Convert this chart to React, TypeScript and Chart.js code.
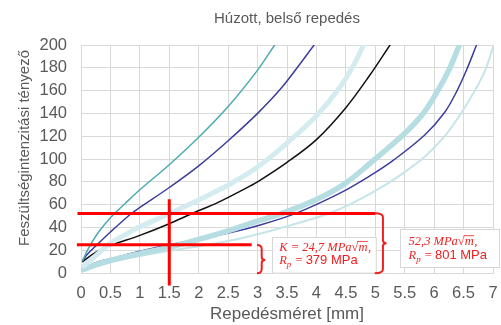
import { useEffect, useRef } from 'react';
import { Chart, registerables } from 'chart.js';

Chart.register(...registerables);

const titleText = 'Húzott, belső repedés';
const xTitle = 'Repedésméret [mm]';
const yTitle = 'Feszültségintenzitási tényező';

// Curves (crack size [mm] -> stress intensity)
const tealX = [0.03, 0.1, 0.17, 0.3, 0.5, 0.75, 1.0, 1.5, 2.0, 2.5, 3.0, 3.29];
const tealY = [11, 19, 25.6, 36, 48.5, 61, 73, 95, 119, 146, 178, 200];

const blue1X = [0.03, 0.1, 0.26, 0.5, 0.85, 1.0, 1.5, 2.0, 2.5, 3.0, 3.4, 3.73, 3.96];
const blue1Y = [11, 16, 24.2, 36, 52, 57.5, 75, 94, 116, 140, 162, 184, 200];

const paleX = [0.05, 0.2, 0.5, 0.8, 1.0, 1.5, 2.0, 2.33, 2.5, 3.0, 3.5, 4.0, 4.4, 4.65, 4.8];
const paleY = [6, 13, 26, 35, 40.5, 52, 64, 72.5, 77, 93, 114, 138, 163, 184, 200];

const blackX = [0.03, 0.17, 0.3, 0.51, 1.0, 1.49, 1.88, 2.33, 2.73, 3.0, 3.5, 4.0, 4.5, 4.9, 5.25];
const blackY = [10, 15.4, 19.5, 24.2, 33, 43, 52, 62, 72.5, 80, 97, 117, 145, 173, 200];

const bandX = [0.03, 0.3, 0.5, 1.0, 1.5, 2.0, 2.5, 3.0, 3.45, 4.0, 4.5, 4.95, 5.47, 5.8, 6.04, 6.25, 6.43];
const bandY = [3, 8, 11, 17, 22.7, 29.5, 37, 45.5, 53, 64.5, 79, 98, 121, 139, 158, 178, 200];

const blue2X = [0.03, 0.3, 0.51, 1.0, 1.5, 2.0, 2.5, 3.0, 3.65, 4.4, 4.9, 5.31, 5.84, 6.18, 6.39, 6.55, 6.72];
const blue2Y = [4, 10, 12.5, 19, 24.7, 29.5, 35, 41.5, 52.3, 70, 84.9, 99, 121, 141, 160, 178, 200];

const lightX = [0.03, 0.5, 1.0, 1.5, 2.0, 2.5, 3.0, 3.5, 4.2, 4.6, 5.0, 5.4, 5.84, 6.18, 6.43, 6.67, 6.87, 7.0];
const lightY = [2, 9.5, 15, 19.5, 23.5, 28, 34, 41, 52, 61, 72, 85, 102, 120, 138, 158, 178, 198];

// Red reading lines
const redVX = [1.5, 1.5];
const redVY = [64.7, -11];
const redHiX = [-0.06, 5.0];
const redHiY = [52.3, 52.3];
const redLoX = [-0.07, 2.9];
const redLoY = [24.7, 24.7];

// Annotation texts
const lowLine1 = 'K = 24,7 MPa';
const hiLine1 = '52,3 MPa';
const sqrtArg = 'm';
const rSym = 'R';
const rSub = 'p';
const lowRp = '379 MPa';
const hiRp = '801 MPa';

// Annotation boxes / braces in data units
const lowBox = { x0: 3.24, x1: 5.02, y0: -0.3, y1: 31.8 };
const hiBox = { x0: 5.42, x1: 7.12, y0: 4.4, y1: 38.6 };
const lowBrace = { x0: 2.99, x1: 3.07, x2: 3.13, top: 24.6, bottom: -0.3, mid: 11.4 };
const hiBrace = { x0: 4.99, x1: 5.13, x2: 5.19, top: 52.4, bottom: -0.3, mid: 26 };

const RED = '#f02020';
const GRAY_TEXT = '#595959';
const GRID = '#d9d9d9';

const pts = (xs: number[], ys: number[]) => xs.map((v, i) => ({ x: v, y: ys[i] }));

const annotPlugin = {
  id: 'annot',
  afterDatasetsDraw(chart: any) {
    const { ctx } = chart;
    const xs = chart.scales.x;
    const ys = chart.scales.y;
    const px = (v: number) => xs.getPixelForValue(v);
    const py = (v: number) => ys.getPixelForValue(v);
    ctx.save();

    const drawBox = (b: any) => {
      const l = px(b.x0), r = px(b.x1), t = py(b.y1), bt = py(b.y0);
      ctx.fillStyle = '#ffffff';
      ctx.fillRect(l, t, r - l, bt - t);
      ctx.strokeStyle = '#d6d6d6';
      ctx.lineWidth = 1;
      ctx.strokeRect(Math.round(l) + 0.5, Math.round(t) + 0.5, r - l - 1, bt - t - 1);
      return { l, t };
    };

    const drawBrace = (b: any) => {
      const x0 = px(b.x0), x1 = px(b.x1), x2 = px(b.x2);
      const t = py(b.top), bt = py(b.bottom), m = py(b.mid);
      ctx.strokeStyle = RED;
      ctx.lineWidth = 2;
      ctx.beginPath();
      ctx.moveTo(x0, t);
      ctx.quadraticCurveTo(x1, t, x1, t + 4);
      ctx.lineTo(x1, m - 3);
      ctx.quadraticCurveTo(x1, m, x2, m);
      ctx.quadraticCurveTo(x1, m, x1, m + 3);
      ctx.lineTo(x1, bt - 4);
      ctx.quadraticCurveTo(x1, bt, x0, bt);
      ctx.stroke();
    };

    const mathFont = 'italic 12.5px "Liberation Serif"';
    const subFont = 'italic 9px "Liberation Serif"';
    const sansFont = '13px "Liberation Sans"';

    const drawLine1 = (x: number, y: number, head: string) => {
      ctx.fillStyle = RED;
      ctx.textBaseline = 'alphabetic';
      ctx.textAlign = 'left';
      ctx.font = mathFont;
      ctx.fillText(head, x, y);
      let cx = x + ctx.measureText(head).width;
      ctx.font = '12.5px "Liberation Serif"';
      ctx.fillText('√', cx, y);
      const sw = ctx.measureText('√').width;
      cx += sw;
      ctx.font = mathFont;
      ctx.fillText(sqrtArg, cx, y);
      const mw = ctx.measureText(sqrtArg).width;
      ctx.strokeStyle = RED;
      ctx.lineWidth = 0.8;
      ctx.beginPath();
      ctx.moveTo(cx - 1, y - 9.8);
      ctx.lineTo(cx + mw + 0.5, y - 9.8);
      ctx.stroke();
      cx += mw;
      ctx.fillText(',', cx + 0.5, y);
    };

    const drawLine2 = (x: number, y: number, val: string) => {
      ctx.fillStyle = RED;
      ctx.textAlign = 'left';
      ctx.textBaseline = 'alphabetic';
      ctx.font = mathFont;
      ctx.fillText(rSym, x, y);
      let cx = x + ctx.measureText(rSym).width;
      ctx.font = subFont;
      ctx.fillText(rSub, cx, y + 3);
      cx += ctx.measureText(rSub).width + 1;
      ctx.font = '12.5px "Liberation Serif"';
      ctx.fillText(' = ', cx, y);
      cx += ctx.measureText(' = ').width;
      ctx.font = sansFont;
      ctx.fillText(val, cx, y);
    };

    const lb = drawBox(lowBox);
    drawLine1(lb.l + 7.5, lb.t + 14.5, lowLine1);
    drawLine2(lb.l + 7.5, lb.t + 27.5, lowRp);

    const hb = drawBox(hiBox);
    drawLine1(hb.l + 8.5, hb.t + 16.5, hiLine1);
    drawLine2(hb.l + 8.5, hb.t + 30.5, hiRp);

    drawBrace(lowBrace);
    drawBrace(hiBrace);

    // Y axis title
    ctx.fillStyle = GRAY_TEXT;
    ctx.font = '15px "Liberation Sans"';
    ctx.textAlign = 'center';
    ctx.textBaseline = 'middle';
    ctx.translate(25, 148);
    ctx.rotate(-Math.PI / 2);
    ctx.fillText(yTitle, 0, 0);
    ctx.restore();
  },
};

export default function App() {
  const ref = useRef<HTMLCanvasElement | null>(null);
  useEffect(() => {
    if (!ref.current) return;
    const curve = (xs: number[], ys: number[], color: string, width: number) => ({
      data: pts(xs, ys),
      borderColor: color,
      backgroundColor: color,
      borderWidth: width,
      pointRadius: 0,
      tension: 0.35,
      borderCapStyle: 'round',
      borderJoinStyle: 'round',
      fill: false,
      order: 2,
    });
    const red = (xs: number[], ys: number[]) => ({
      data: pts(xs, ys),
      borderColor: '#ff0000',
      backgroundColor: '#ff0000',
      borderWidth: 3,
      pointRadius: 0,
      tension: 0,
      fill: false,
      clip: false as any,
      order: 0,
    });
    const chart = new Chart(ref.current, {
      type: 'line',
      data: {
        datasets: [
          red(redVX, redVY),
          red(redHiX, redHiY),
          red(redLoX, redLoY),
          curve(paleX, paleY, '#d4ecef', 5),
          curve(bandX, bandY, '#b6dde2', 5.5),
          curve(lightX, lightY, '#c6e5e9', 2),
          curve(tealX, tealY, '#4babb1', 1.5),
          curve(blue1X, blue1Y, '#3d3d9c', 1.5),
          curve(blue2X, blue2Y, '#3d3d9c', 1.5),
          curve(blackX, blackY, '#111111', 1.5),
        ] as any,
      },
      options: {
        responsive: false,
        animation: false,
        events: [],
        layout: { padding: { left: 0, right: 8, top: 0, bottom: 0 } },
        plugins: {
          legend: { display: false },
          tooltip: { enabled: false },
          title: {
            display: true,
            text: titleText,
            color: GRAY_TEXT,
            fullSize: false,
            font: { family: 'Liberation Sans', size: 15, weight: 'normal' },
            padding: { top: 10, bottom: 17 },
          },
        },
        scales: {
          x: {
            type: 'linear',
            min: 0,
            max: 7,
            afterFit: (s: any) => { s.height = 52; s.paddingRight = 0; s.paddingLeft = 0; },
            grid: { color: GRID, lineWidth: 1, drawTicks: false },
            border: { color: GRID },
            ticks: {
              stepSize: 0.5,
              padding: 11,
              color: GRAY_TEXT,
              font: { family: 'Liberation Sans', size: 16.5 },
              maxRotation: 0,
              autoSkip: false,
              callback: (v: any) => String(Math.round(Number(v) * 10) / 10),
            },
            title: {
              display: true,
              text: xTitle,
              color: GRAY_TEXT,
              font: { family: 'Liberation Sans', size: 17 },
              padding: { top: 0, bottom: 0 },
            },
          },
          y: {
            type: 'linear',
            min: 0,
            max: 200,
            afterFit: (s: any) => { s.width = 81; },
            grid: { color: GRID, lineWidth: 1, drawTicks: false },
            border: { color: GRID },
            ticks: {
              stepSize: 20,
              padding: 14,
              color: GRAY_TEXT,
              font: { family: 'Liberation Sans', size: 16.5 },
            },
          },
        },
      } as any,
      plugins: [annotPlugin],
    });
    return () => chart.destroy();
  }, []);
  return (
    <div style={{ position: 'fixed', left: 0, top: 0, width: 501, height: 325, background: '#fff' }}>
      <canvas ref={ref} width={501} height={325} />
    </div>
  );
}
